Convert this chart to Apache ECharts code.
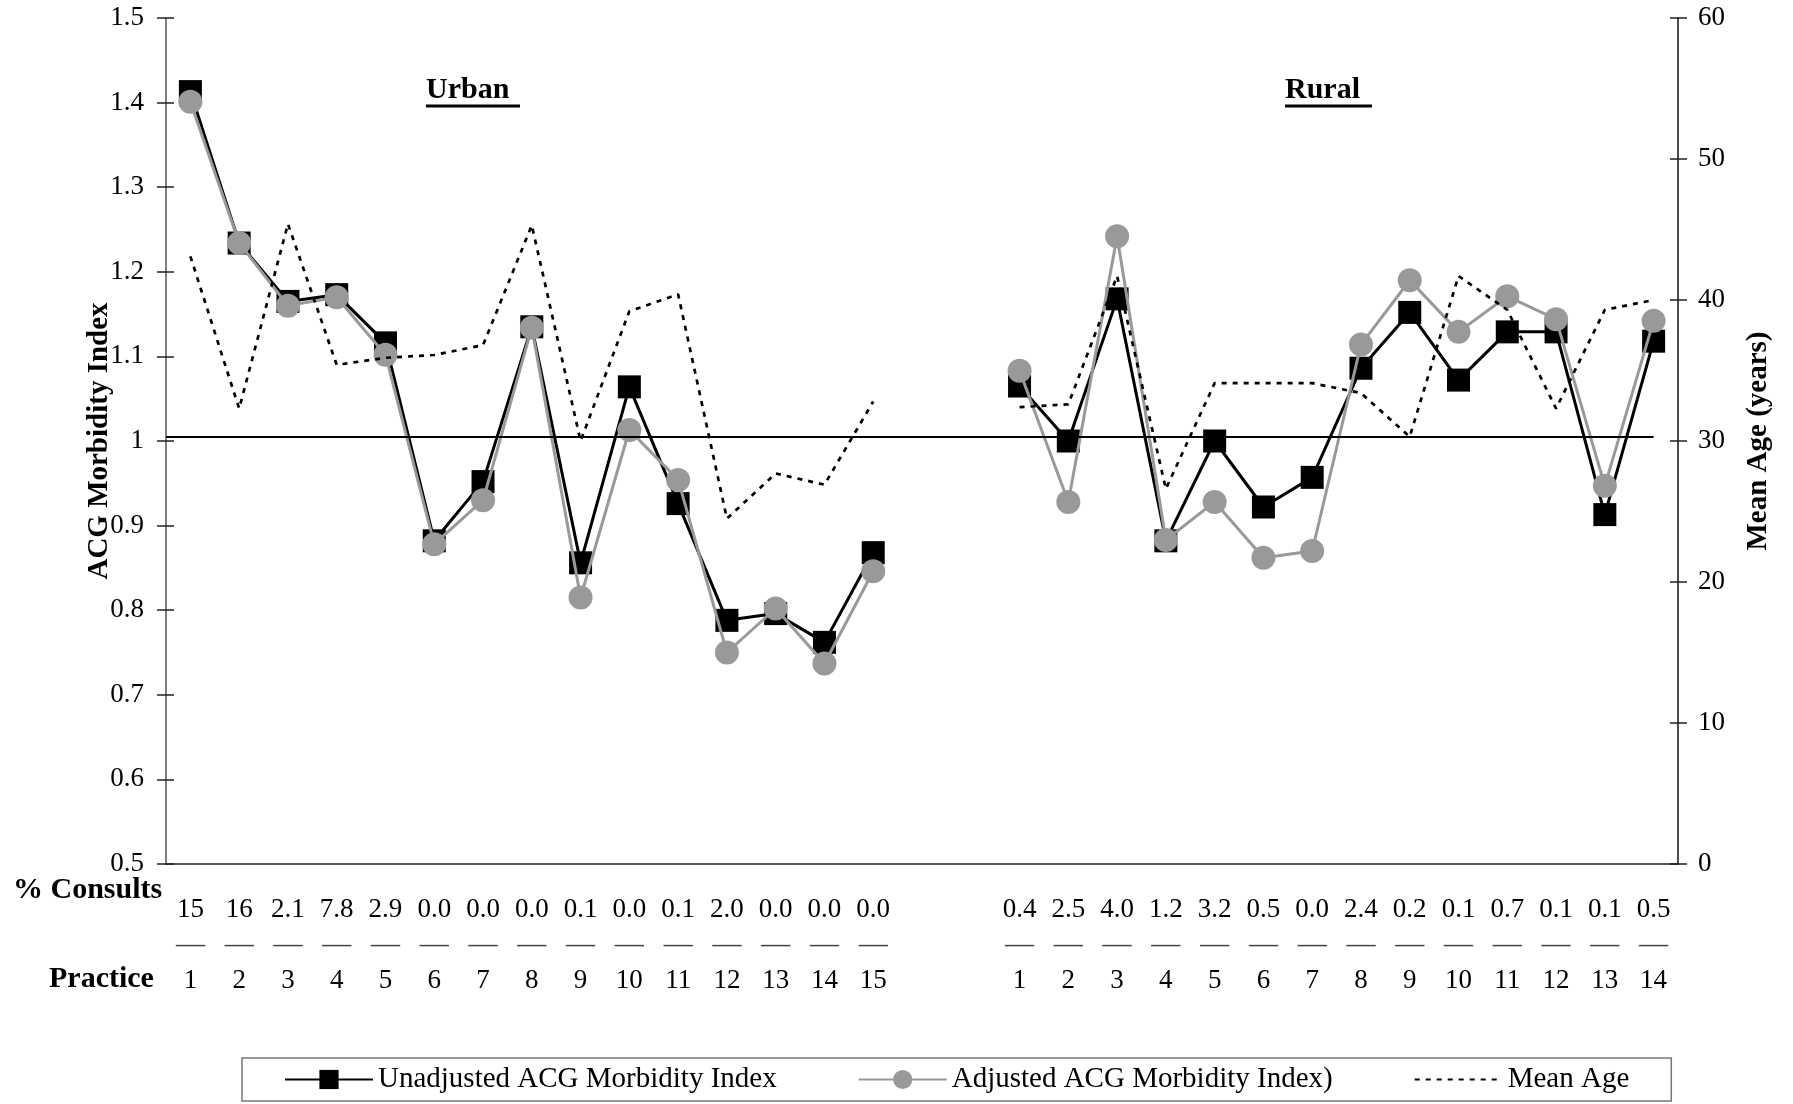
<!DOCTYPE html>
<html>
<head>
<meta charset="utf-8">
<script src="https://cdn.jsdelivr.net/npm/echarts@6/dist/echarts.min.js"></script>
<style>
html,body{margin:0;padding:0;background:#fff;}
#c{width:1793px;height:1104px;}
</style>
</head>
<body>
<div id="c"></div>
<script>
// ---- data ----
const categories = ['U1','U2','U3','U4','U5','U6','U7','U8','U9','U10','U11','U12','U13','U14','U15','gapA','gapB',
  'R1','R2','R3','R4','R5','R6','R7','R8','R9','R10','R11','R12','R13','R14'];
const practiceLabels = ['1','2','3','4','5','6','7','8','9','10','11','12','13','14','15','','',
  '1','2','3','4','5','6','7','8','9','10','11','12','13','14'];
const consultLabels = ['15','16','2.1','7.8','2.9','0.0','0.0','0.0','0.1','0.0','0.1','2.0','0.0','0.0','0.0','','',
  '0.4','2.5','4.0','1.2','3.2','0.5','0.0','2.4','0.2','0.1','0.7','0.1','0.1','0.5'];
const unadjusted = [1.413,1.234,1.165,1.173,1.116,0.882,0.952,1.135,0.856,1.064,0.926,0.788,0.796,0.762,0.868,null,null,
  1.065,1.000,1.168,0.882,1.000,0.922,0.957,1.086,1.152,1.072,1.129,1.129,0.913,1.118];
const adjusted = [1.401,1.234,1.160,1.170,1.102,0.878,0.930,1.134,0.815,1.013,0.954,0.750,0.802,0.737,0.846,null,null,
  1.083,0.928,1.242,0.883,0.928,0.862,0.870,1.114,1.190,1.129,1.171,1.144,0.947,1.142];
const meanAge = [43.1,32.3,45.4,35.4,35.9,36.1,36.8,45.3,30.0,39.2,40.4,24.5,27.7,26.9,32.8,null,null,
  32.4,32.6,41.7,26.6,34.1,34.1,34.1,33.4,30.3,41.7,39.3,32.3,39.3,40.0];
const refValue = 1.005;
const leftTicks = {min: 0.5, max: 1.5, interval: 0.1};
const rightTicks = {min: 0, max: 60, interval: 10};
const seriesNames = ['Unadjusted ACG Morbidity Index', 'Adjusted ACG Morbidity Index)', 'Mean Age'];

// ---- chart ----
const FONT = "'Liberation Serif', 'Times New Roman', serif";
const chart = echarts.init(document.getElementById('c'), null, {renderer: 'canvas'});

const option = {
  animation: false,
  backgroundColor: '#fff',
  textStyle: {fontFamily: FONT, color: '#000'},
  grid: {left: 166, right: 115, top: 18, bottom: 240, containLabel: false},
  legend: {
    left: 242, top: 1058,
    padding: [7, 42, 7, 42],
    itemGap: 81, itemWidth: 88, itemHeight: 24,
    borderColor: '#777', borderWidth: 1.5,
    textStyle: {fontFamily: FONT, fontSize: 29, color: '#000'},
    data: [
      {name: seriesNames[0]},
      {name: seriesNames[1]},
      {name: seriesNames[2], itemStyle: {color: 'rgba(0,0,0,0)', borderColor: 'rgba(0,0,0,0)', borderWidth: 0}}
    ]
  },
  xAxis: {
    type: 'category',
    data: categories,
    boundaryGap: true,
    axisLine: {lineStyle: {color: '#222', width: 1.5}},
    axisTick: {show: false},
    axisLabel: {
      interval: 0,
      margin: 28,
      formatter: function (val, idx) {
        if (!practiceLabels[idx]) return '';
        return '{v|' + consultLabels[idx] + '}\n{d|\u2014}\n{p|' + practiceLabels[idx] + '}';
      },
      rich: {
        v: {fontFamily: FONT, fontSize: 27, lineHeight: 36, color: '#000'},
        d: {fontFamily: FONT, fontSize: 29, lineHeight: 35, color: '#444'},
        p: {fontFamily: FONT, fontSize: 27, lineHeight: 36, color: '#000'}
      }
    }
  },
  yAxis: [
    {
      type: 'value', position: 'left',
      min: leftTicks.min, max: leftTicks.max, interval: leftTicks.interval,
      name: 'ACG Morbidity Index', nameLocation: 'middle', nameGap: 52, nameMoveOverlap: false,
      nameTextStyle: {fontFamily: FONT, fontSize: 29, fontWeight: 'bold', color: '#000'},
      axisLine: {show: true, lineStyle: {color: '#555', width: 1.5}},
      axisTick: {show: true, inside: false, length: 9, lineStyle: {color: '#222', width: 1.5}},
      axisLabel: {fontFamily: FONT, fontSize: 27, color: '#000', margin: 22},
      splitLine: {show: false}
    },
    {
      type: 'value', position: 'right',
      min: rightTicks.min, max: rightTicks.max, interval: rightTicks.interval,
      name: 'Mean Age (years)', nameLocation: 'middle', nameGap: 66, nameMoveOverlap: false,
      nameTextStyle: {fontFamily: FONT, fontSize: 29, fontWeight: 'bold', color: '#000'},
      axisLine: {show: true, lineStyle: {color: '#111', width: 1.5}},
      axisTick: {show: true, inside: false, length: 9, lineStyle: {color: '#222', width: 1.5}},
      axisLabel: {fontFamily: FONT, fontSize: 27, color: '#000', margin: 20},
      splitLine: {show: false}
    },
    {
      type: 'value', position: 'left',
      min: leftTicks.min, max: leftTicks.max, interval: leftTicks.interval,
      axisLine: {show: false},
      axisTick: {show: true, inside: true, length: 8, lineStyle: {color: '#222', width: 1.5}},
      axisLabel: {show: false}, splitLine: {show: false}
    },
    {
      type: 'value', position: 'right',
      min: rightTicks.min, max: rightTicks.max, interval: rightTicks.interval,
      axisLine: {show: false},
      axisTick: {show: true, inside: true, length: 8, lineStyle: {color: '#222', width: 1.5}},
      axisLabel: {show: false}, splitLine: {show: false}
    }
  ],
  series: [
    {
      id: 'unadj',
      name: seriesNames[0], type: 'line', yAxisIndex: 0,
      data: unadjusted, connectNulls: false,
      symbol: 'rect', symbolSize: 23,
      lineStyle: {color: '#000', width: 3},
      itemStyle: {color: '#000'},
      z: 3
    },
    {
      name: seriesNames[1], type: 'line', yAxisIndex: 0,
      data: adjusted, connectNulls: false,
      symbol: 'circle', symbolSize: 24,
      lineStyle: {color: '#999', width: 3},
      itemStyle: {color: '#999'},
      z: 4
    },
    {
      name: seriesNames[2], type: 'line', yAxisIndex: 1,
      data: meanAge, connectNulls: false,
      symbol: 'none',
      lineStyle: {color: '#000', width: 2.7, type: [5, 6]},
      itemStyle: {color: '#000'},
      z: 5
    }
  ],
  graphic: [
    {type: 'text', left: 13, top: 875, style: {text: '% Consults', font: 'bold 30px ' + FONT, fill: '#000'}},
    {type: 'text', left: 49, top: 964, style: {text: 'Practice', font: 'bold 30px ' + FONT, fill: '#000'}},
    {type: 'text', left: 426, top: 75, style: {text: 'Urban', font: 'bold 30px ' + FONT, fill: '#000'}},
    {type: 'line', shape: {x1: 426, y1: 106, x2: 520, y2: 106}, style: {stroke: '#000', lineWidth: 3}},
    {type: 'text', left: 1285, top: 75, style: {text: 'Rural', font: 'bold 30px ' + FONT, fill: '#000'}},
    {type: 'line', shape: {x1: 1285, y1: 106, x2: 1372, y2: 106}, style: {stroke: '#000', lineWidth: 3}}
  ]
};
chart.setOption(option);

// reference line at refValue: from the left axis to the last category, positioned via the library's scales
const p0 = chart.convertToPixel({xAxisIndex: 0, yAxisIndex: 0}, [0, refValue]);
const p1 = chart.convertToPixel({xAxisIndex: 0, yAxisIndex: 0}, [1, refValue]);
const pEnd = chart.convertToPixel({xAxisIndex: 0, yAxisIndex: 0}, [categories.length - 1, refValue]);
const leftEdge = p0[0] - (p1[0] - p0[0]) / 2;
chart.setOption({
  series: [{
    id: 'unadj',
    markLine: {
      silent: true, symbol: 'none', label: {show: false},
      lineStyle: {color: '#000', width: 2, type: 'solid'},
      data: [[{x: leftEdge, y: p0[1]}, {x: pEnd[0], y: pEnd[1]}]]
    }
  }]
});
</script>
</body>
</html>
